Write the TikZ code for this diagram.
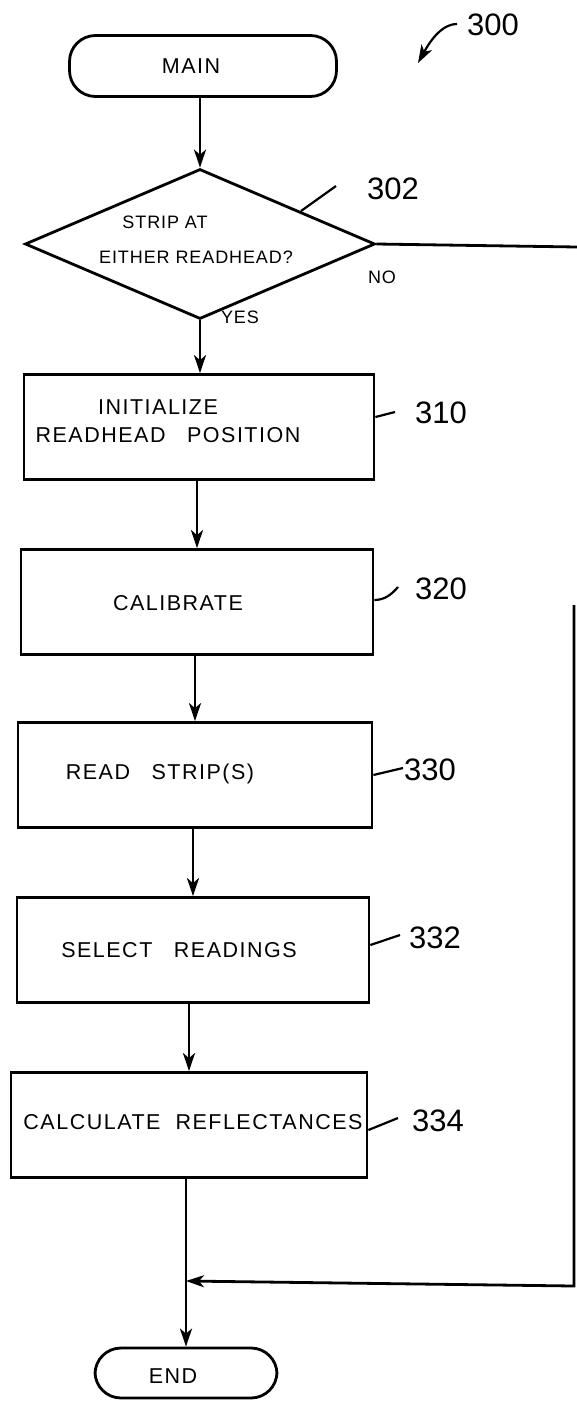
\documentclass[tikz,border=0pt]{standalone}
\usepackage{fontspec}
\setmainfont{Liberation Sans}
\usetikzlibrary{shapes.geometric,arrows.meta}
\begin{document}
\begin{tikzpicture}[x=1pt,y=-1pt,
  line width=2.8pt,
  term/.style={draw,line width=2.8pt,rounded corners=26pt,inner sep=0pt},
  stepbox/.style={draw,line width=2.8pt,inner sep=0pt,minimum height=105pt},
  boxtext/.style={font=\fontsize{21.5}{34}\selectfont\addfontfeature{LetterSpace=7},align=center,inner sep=0pt},
  dectext/.style={font=\fontsize{18}{35}\selectfont\addfontfeature{LetterSpace=5},inner sep=0pt},
  refnum/.style={font=\fontsize{31}{32}\selectfont,inner sep=0pt},
  arr/.style={-{Stealth[length=18pt,width=12pt,inset=5pt]}},
  lead/.style={line width=2.2pt}]
\useasboundingbox (0,0) rectangle (577,1401);

% terminals
\node[term,minimum width=267pt,minimum height=61pt] (main) at (203,66) {};
\node[boxtext] (tmain) at (191,66) {MAIN};
\node[term,minimum width=182pt,minimum height=50pt] (end) at (186,1373) {};
\node[boxtext] (tend) at (173,1376) {END};

% decision
\node[draw,diamond,aspect=2.33,minimum width=350pt,minimum height=150pt,inner sep=0pt] (dec) at (200,244) {};
\node[dectext] (tdec1) at (165,222) {STRIP AT};
\node[dectext] (tdec2) at (196,257) {EITHER READHEAD?};

% process boxes
\node[stepbox,minimum width=350pt] (b310) at (199,427) {};
\node[boxtext] (t310a) at (158,407) {INITIALIZE};
\node[boxtext] (t310b) at (168,435) {READHEAD\quad POSITION};
\node[stepbox,minimum width=352pt] (b320) at (197,602) {};
\node[boxtext] (t320) at (178,603) {CALIBRATE};
\node[stepbox,minimum width=354pt] (b330) at (195,775) {};
\node[boxtext] (t330) at (160,774) {READ\quad STRIP(S)};
\node[stepbox,minimum width=352pt] (b332) at (193,950) {};
\node[boxtext] (t332) at (179,950) {SELECT\quad READINGS};
\node[stepbox,minimum width=356pt] (b334) at (189,1125) {};
\node[boxtext] (t334) at (193,1122) {CALCULATE\ \ REFLECTANCES};

% labels
\node[refnum] (l300) at (493,25) {300};
\node[refnum] (l302) at (393,189) {302};
\node[refnum] (l310) at (441,413) {310};
\node[refnum] (l320) at (441,589) {320};
\node[refnum] (l330) at (430,770) {330};
\node[refnum] (l332) at (435,938) {332};
\node[refnum] (l334) at (438,1121) {334};
\node[dectext] (lno) at (382,277) {NO};
\node[dectext] (lyes) at (240,317) {YES};

% leaders
\draw[lead,arr] (457,24) .. controls (440,24) and (428,45) .. (418,63);
\draw[lead] (301,211) -- (336,186);
\draw[lead] (b310.east |- 0,417) -- (395,412);
\draw[lead] (b320.east |- 0,600) .. controls (385,600) and (392,594) .. (398,587);
\draw[lead] (b330.east |- 0,775) -- (403,768);
\draw[lead] (b332.east |- 0,945) -- (400,935);
\draw[lead] (b334.east |- 0,1130) -- (398,1118);

% connectors
\draw[arr] (main.south -| dec.north) -- (dec.north);
\draw[arr] (dec.south) -- (b310.north -| dec.south);
\draw[arr] (b310.south -| b320.north) -- (b320.north);
\draw[arr] (b320.south -| b330.north) -- (b330.north);
\draw[arr] (b330.south -| b332.north) -- (b332.north);
\draw[arr] (b332.south -| b334.north) -- (b334.north);
\coordinate (edge) at (577,247);
\coordinate (rtop) at (574,605);
\coordinate (rbot) at (574,1286);
\coordinate (join) at (186,1281);
\draw (dec.east) -- (edge);
\draw[arr] (b334.south -| end.north) -- (end.north);
\draw[arr] (rtop) -- (rbot) -- (join);
\end{tikzpicture}
\end{document}
